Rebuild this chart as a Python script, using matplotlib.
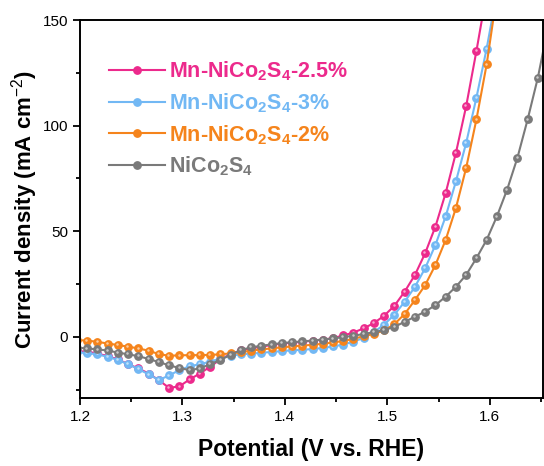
import matplotlib
matplotlib.use("Agg")
from matplotlib import pyplot as plt
from matplotlib import ticker
from matplotlib import transforms


FIGSIZE = (544, 466)
DPI = 100

plt.rcParams["font.family"] = ["Liberation Sans", "DejaVu Sans"]
plt.rcParams["mathtext.fontset"] = "custom"
plt.rcParams["mathtext.rm"] = "Liberation Sans"
plt.rcParams["mathtext.bf"] = "Liberation Sans:bold"

# potential (V vs. RHE), one point every ~10 mV
potential = [1.197, 1.207, 1.217, 1.227, 1.237, 1.247, 1.257, 1.267, 1.277, 1.287,
             1.297, 1.307, 1.317, 1.327, 1.337, 1.347, 1.357, 1.367, 1.377, 1.387,
             1.397, 1.407, 1.417, 1.427, 1.437, 1.447, 1.457, 1.467, 1.477, 1.487,
             1.497, 1.507, 1.517, 1.527, 1.537, 1.547, 1.557, 1.567, 1.577, 1.587,
             1.597, 1.607, 1.617, 1.627, 1.637, 1.647, 1.657]

mn_25 = [-6.8, -7.1, -7.9, -9.2, -10.7, -13.0, -15.0, -17.4, -20.6, -24.2,
         -23.5, -20.2, -17.4, -14.2, -10.7, -8.2, -6.5, -5.5, -4.7, -3.9,
         -3.2, -2.8, -2.4, -1.9, -1.4, -0.6, 0.6, 2.0, 4.0, 6.5,
         10.0, 14.7, 21.4, 29.3, 39.6, 52.2, 68.1, 87.1, 109.2, 135.3,
         163.0]

mn_3 = [-7.3, -7.8, -8.3, -9.5, -11.0, -13.0, -15.3, -17.8, -20.5, -18.3,
        -15.8, -14.0, -13.0, -11.8, -10.3, -9.0, -8.3, -8.0, -7.6, -7.2,
        -6.8, -6.4, -6.2, -5.8, -5.3, -4.6, -3.7, -2.3, -0.5, 2.2,
        5.8, 10.5, 16.6, 23.7, 32.5, 43.5, 57.0, 73.6, 91.8, 113.2,
        136.5, 163.0]

mn_2 = [-1.6, -1.8, -2.4, -3.2, -3.9, -4.7, -5.5, -6.6, -8.2, -9.0,
        -8.8, -8.7, -8.7, -8.6, -8.3, -7.9, -7.3, -6.6, -6.0, -5.5,
        -5.0, -4.6, -4.2, -3.8, -3.3, -2.7, -2.0, -1.0, 0.3, 1.4,
        3.0, 6.0, 10.8, 17.4, 24.5, 34.0, 45.9, 61.0, 80.0, 102.9,
        129.0, 162.0]

nico = [-5.2, -5.5, -6.0, -6.5, -7.5, -8.3, -9.2, -10.5, -12.0, -13.5,
        -14.8, -15.8, -15.0, -13.0, -11.0, -8.5, -6.3, -5.0, -4.3, -3.6,
        -3.0, -2.6, -2.2, -1.8, -1.3, -0.8, -0.2, 0.5, 1.3, 2.2,
        3.2, 4.7, 7.1, 9.5, 11.9, 15.0, 19.0, 23.7, 29.3, 37.2,
        45.9, 57.0, 69.7, 84.7, 102.9, 122.7, 147.0]

series = [
    ("Mn-NiCo$_\\mathbf{2}$S$_\\mathbf{4}$-2.5%", mn_25, "#EC2A8C"),
    ("Mn-NiCo$_\\mathbf{2}$S$_\\mathbf{4}$-3%", mn_3, "#72B8F4"),
    ("Mn-NiCo$_\\mathbf{2}$S$_\\mathbf{4}$-2%", mn_2, "#F5841C"),
    ("NiCo$_\\mathbf{2}$S$_\\mathbf{4}$", nico, "#7A7A7A"),
]


fig = plt.figure(figsize=(FIGSIZE[0]/DPI, FIGSIZE[1]/DPI), dpi=DPI)
ax = fig.add_axes([80/544, 1 - 398/466, 463/544, 378/466])

# little highlight on each ball marker
shine = transforms.offset_copy(ax.transData, fig=fig, x=-0.6, y=0.6, units="points")

for label, ys, color in series:
    xs = potential[:len(ys)]
    ax.plot(xs, ys, "-o", color=color, lw=1.5, ms=5.3, mec=color, mfc=color, label=label)
    ax.plot(xs, ys, "o", color="white", ms=1.8, mec="none", alpha=0.6,
            transform=shine, label="_nolegend_")

ax.set_xlim(1.2, 1.652)
ax.set_ylim(-29, 150)
ax.xaxis.set_major_locator(ticker.MultipleLocator(0.1))
ax.xaxis.set_minor_locator(ticker.MultipleLocator(0.05))
ax.yaxis.set_major_locator(ticker.MultipleLocator(50))
ax.yaxis.set_minor_locator(ticker.MultipleLocator(25))
ax.xaxis.set_major_formatter(ticker.FormatStrFormatter("%.1f"))

ax.tick_params(which="both", direction="out", width=1.3, labelsize=11, top=False, right=False)
ax.tick_params(which="major", length=5)
ax.tick_params(which="minor", length=3)
for s in ax.spines.values():
    s.set_linewidth(1.4)

ax.set_xlabel("Potential (V vs. RHE)", fontsize=16.5, fontweight="bold", labelpad=10)
ax.set_ylabel("Current density (mA cm$^{-2}$)", fontsize=16, fontweight="bold", labelpad=2)

leg = ax.legend(loc="upper left", bbox_to_anchor=(0.035, 0.93), frameon=False,
                prop={"size": 15.5, "weight": "bold"}, handlelength=2.6,
                handletextpad=0.2, labelspacing=0.38, borderaxespad=0.2)
for text, (_, _, color) in zip(leg.get_texts(), series):
    text.set_color(color)

fig.savefig("out.png", dpi=DPI)
